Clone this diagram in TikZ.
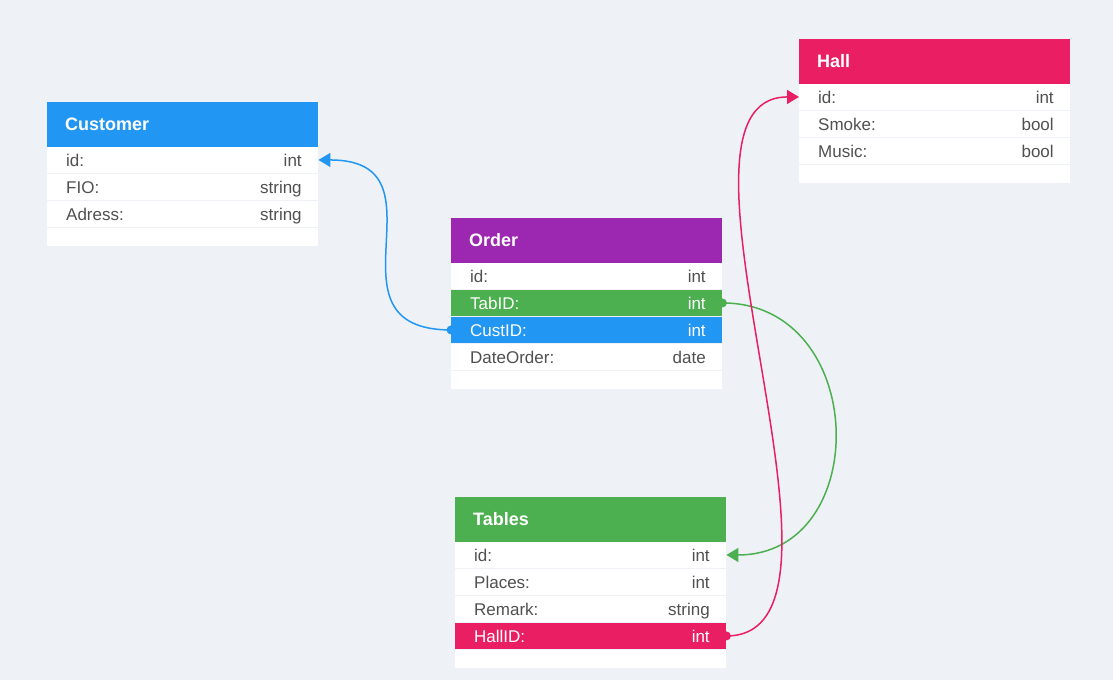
\documentclass[tikz,border=0pt]{standalone}
\usepackage{fontspec}
\setmainfont{Liberation Sans}
\usetikzlibrary{arrows.meta}
\definecolor{bg}{HTML}{EEF2F6}
\definecolor{cblue}{HTML}{2196F3}
\definecolor{cpurple}{HTML}{9C27B0}
\definecolor{cpink}{HTML}{E91E63}
\definecolor{cgreen}{HTML}{4CAF50}
\definecolor{rowtext}{HTML}{505050}
\newcommand\hfnt{\fontsize{18}{21}\selectfont\bfseries}
\newcommand\rfnt{\fontsize{17}{20}\selectfont}
\tikzset{
  hdr/.style={rectangle, anchor=north west, minimum height=45pt, inner xsep=18pt, inner ysep=0pt,
    text width=235pt, font=\hfnt, text=white, text height=12pt, text depth=0pt},
  erow/.style={rectangle, anchor=north west, minimum height=25.5pt, inner xsep=16.5pt, inner ysep=0pt,
    text width=238pt, fill=white, font=\rfnt, text=rowtext, text height=15pt, text depth=1pt,
    execute at begin node=\hspace*{2.5pt}},
  efoot/.style={rectangle, anchor=north west, minimum height=18pt, minimum width=271pt, inner sep=0pt, fill=white},
  link/.style={line width=1.5pt},
  tip/.style={-{Triangle[length=12pt,width=14pt]}}
}
\begin{document}
\begin{tikzpicture}[x=1pt,y=-1pt]
\fill[bg] (0,0) rectangle (1113,680);
\useasboundingbox (0,0) rectangle (1113,680);

% Customer
\node[hdr, fill=cblue] (cust-h) at (47,102) {Customer};
\node[erow] (cust-id) at (47,147) {id:\hfill int};
\node[erow] (cust-fio) at (47,174) {FIO:\hfill string};
\node[erow] (cust-adr) at (47,201) {Adress:\hfill string};
\node[efoot] (cust-f) at (47,228) {};

% Order
\node[hdr, fill=cpurple] (ord-h) at (451,218) {Order};
\node[erow] (ord-id) at (451,263) {id:\hfill int};
\node[erow, fill=cgreen, text=white] (ord-tab) at (451,290) {TabID:\hfill int};
\node[erow, fill=cblue, text=white] (ord-cust) at (451,317) {CustID:\hfill int};
\node[erow] (ord-date) at (451,344) {DateOrder:\hfill date};
\node[efoot] (ord-f) at (451,371) {};

% Hall
\node[hdr, fill=cpink] (hall-h) at (799,39) {Hall};
\node[erow] (hall-id) at (799,84) {id:\hfill int};
\node[erow] (hall-smoke) at (799,111) {Smoke:\hfill bool};
\node[erow] (hall-music) at (799,138) {Music:\hfill bool};
\node[efoot] (hall-f) at (799,165) {};

% Tables
\node[hdr, fill=cgreen] (tab-h) at (455,497) {Tables};
\node[erow] (tab-id) at (455,542) {id:\hfill int};
\node[erow] (tab-places) at (455,569) {Places:\hfill int};
\node[erow] (tab-remark) at (455,596) {Remark:\hfill string};
\node[erow, fill=cpink, text=white] (tab-hall) at (455,623) {HallID:\hfill int};
\node[efoot] (tab-f) at (455,650) {};

% links
\draw[link, tip, cblue] (ord-cust.west) .. controls +(-135,0) and +(135,0) .. (cust-id.east);
\draw[link, tip, cgreen] (ord-tab.east) .. controls +(147,0) and +(147,0) .. (tab-id.east);
\draw[link, tip, cpink] (tab-hall.east) .. controls +(157,0) and +(-157,0) .. (hall-id.west);
\fill[cblue] (ord-cust.west) circle (4.5pt);
\fill[cgreen] (ord-tab.east) circle (4.5pt);
\fill[cpink] (tab-hall.east) circle (4.5pt);
\end{tikzpicture}
\end{document}
